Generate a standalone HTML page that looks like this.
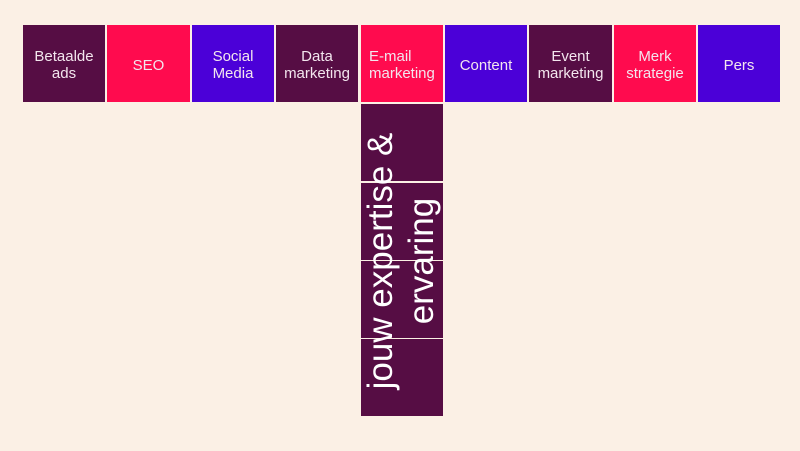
<!DOCTYPE html>
<html><head><meta charset="utf-8"><style>
html,body{margin:0;padding:0}
body{width:800px;height:451px;background:#fbf0e5;position:relative;overflow:hidden;font-family:"Liberation Sans",sans-serif}
.b{position:absolute;top:25px;height:77px;padding-top:3px;box-sizing:border-box;color:#f3e6ee;font-size:15px;line-height:17px;display:flex;align-items:center;justify-content:center;text-align:center}
.d{background:#560d44}.p{background:#ff0b4e}.v{background:#4b00d8}
.seg{position:absolute;left:361px;width:82px;background:#560d44}
.t{position:absolute;left:401px;top:261px;width:360px;transform:translate(-50%,-50%) rotate(-90deg);color:#fff;font-size:35px;line-height:41px;text-align:center;white-space:nowrap}
</style></head><body>
<div class="b d" style="left:23px;width:82px">Betaalde<br>ads</div>
<div class="b p" style="left:107px;width:83px">SEO</div>
<div class="b v" style="left:192px;width:82px">Social<br>Media</div>
<div class="b d" style="left:276px;width:82px">Data<br>marketing</div>
<div class="b p" style="left:361px;justify-content:flex-start;padding-left:8px;width:82px;text-align:left">E-mail<br>marketing</div>
<div class="b v" style="left:445px;width:82px">Content</div>
<div class="b d" style="left:529px;width:83px">Event<br>marketing</div>
<div class="b p" style="left:614px;width:82px">Merk<br>strategie</div>
<div class="b v" style="left:698px;width:82px">Pers</div>
<div class="seg" style="top:104px;height:77px"></div>
<div class="seg" style="top:183px;height:77px"></div>
<div class="seg" style="top:261px;height:77px"></div>
<div class="seg" style="top:339px;height:77px"></div>
<div class="t">jouw expertise &amp;<br>ervaring</div>
</body></html>
